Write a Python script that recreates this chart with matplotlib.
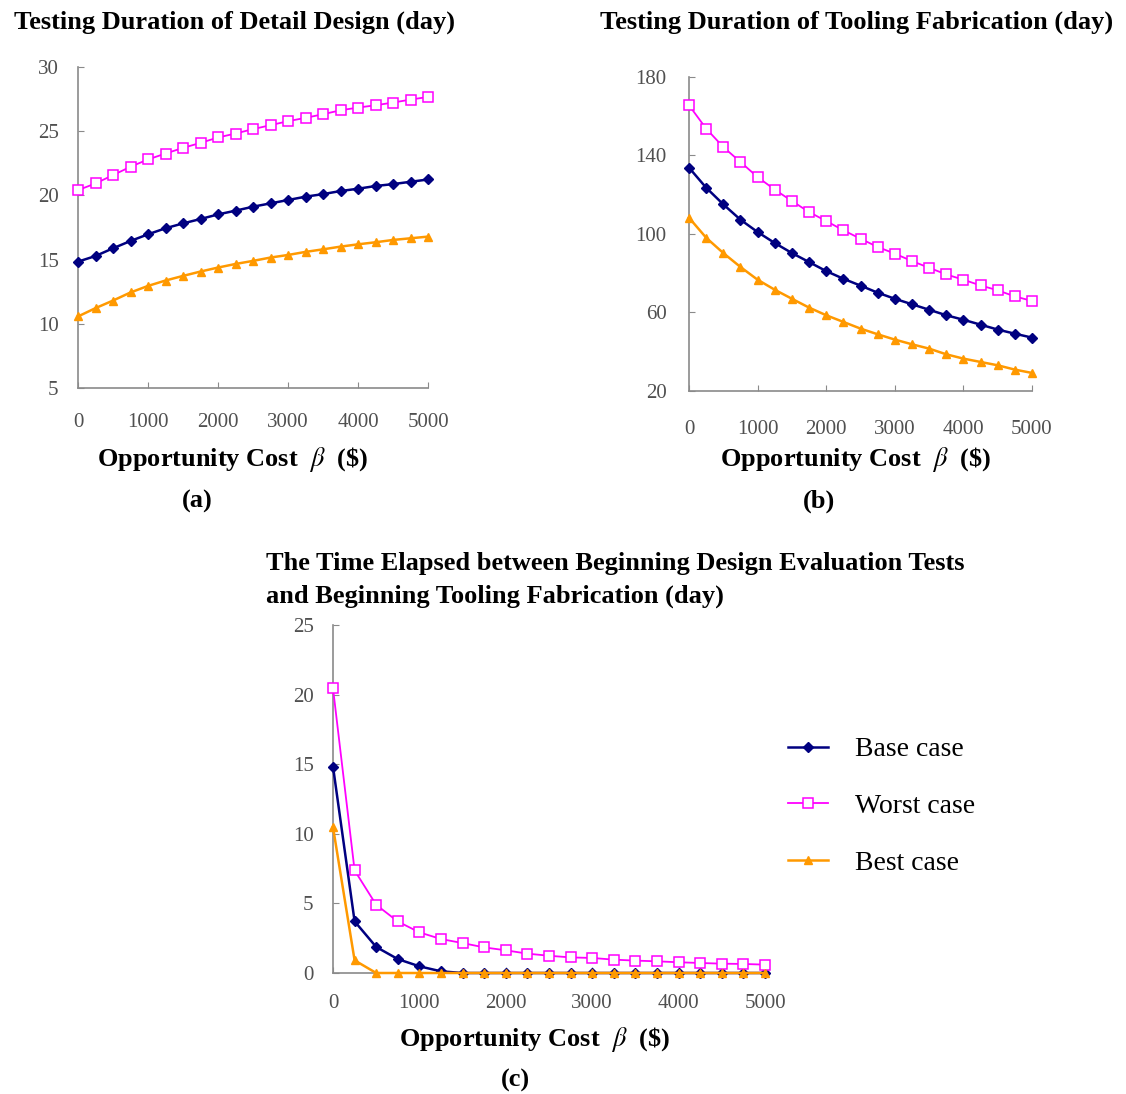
import matplotlib.pyplot as plt

plt.rcParams['font.family'] = ['Liberation Serif', 'DejaVu Serif']
plt.rcParams['mathtext.fontset'] = 'stix'

# Opportunity cost beta ($), one point every 250
beta = list(range(0, 5001, 250))

# (a) testing duration of detail design (day)
detail_base = [14.84, 15.28, 15.88, 16.45, 16.97, 17.44, 17.82, 18.16, 18.52, 18.81, 19.12,
               19.38, 19.64, 19.90, 20.10, 20.34, 20.52, 20.73, 20.88, 21.06, 21.24]
detail_worst = [20.41, 20.93, 21.58, 22.23, 22.80, 23.26, 23.70, 24.09, 24.51, 24.82, 25.16,
                25.47, 25.78, 26.04, 26.32, 26.63, 26.84, 27.02, 27.23, 27.46, 27.67]
detail_best = [10.57, 11.22, 11.81, 12.44, 12.95, 13.37, 13.73, 14.07, 14.38, 14.66, 14.90,
               15.16, 15.36, 15.60, 15.80, 16.01, 16.19, 16.35, 16.53, 16.66, 16.79]

# (b) testing duration of tooling fabrication (day)
tooling_base = [133.8, 123.6, 115.1, 107.3, 101.0, 95.4, 90.3, 85.7, 81.1, 77.2, 73.7,
                70.1, 67.0, 64.2, 61.4, 58.6, 56.3, 53.8, 51.3, 49.2, 47.2]
tooling_worst = [165.6, 153.7, 144.3, 136.7, 129.0, 122.6, 116.8, 111.2, 106.6, 101.9, 97.6,
                 93.4, 90.0, 86.2, 82.8, 79.4, 76.7, 73.8, 71.3, 68.2, 65.9]
tooling_best = [108.3, 98.1, 90.3, 83.2, 76.7, 71.6, 67.0, 62.5, 58.6, 55.2, 51.8,
                48.9, 46.2, 43.8, 41.6, 38.7, 36.5, 34.8, 33.1, 30.9, 29.2]

# (c) time elapsed between design evaluation tests and tooling fabrication (day)
elapsed_base = [14.83, 3.71, 1.87, 1.00, 0.48, 0.12, 0, 0, 0, 0, 0,
                0, 0, 0, 0, 0, 0, 0, 0, 0, 0]
elapsed_worst = [20.45, 7.37, 4.90, 3.70, 2.92, 2.44, 2.15, 1.84, 1.63, 1.39, 1.24,
                 1.12, 1.08, 0.96, 0.89, 0.84, 0.77, 0.72, 0.67, 0.65, 0.60]
elapsed_best = [10.48, 0.91, 0, 0, 0, 0, 0, 0, 0, 0, 0,
                0, 0, 0, 0, 0, 0, 0, 0, 0, 0]

case_names = ['Base case', 'Worst case', 'Best case']
panel_tags = ['(a)', '(b)', '(c)']

W, H = 1126, 1094
fig = plt.figure(figsize=(W / 100, H / 100), dpi=100)


def box(left, top, right, bottom):
    # pixel box -> figure fraction rect
    return [left / W, 1 - bottom / H, (right - left) / W, (bottom - top) / H]


def draw_panel(rect, base, worst, best, ylim, yticks, xpad, ypad):
    ax = fig.add_axes(rect)
    ax.plot(beta, base, color='#000080', marker='D', ms=5, lw=1.8, clip_on=False, zorder=3)
    ax.plot(beta, worst, color='#ff00ff', marker='s', ms=6.5, mfc='white', mew=1.1, lw=1.3,
            clip_on=False, zorder=3)
    ax.plot(beta, best, color='#ff9900', marker='^', ms=6, lw=1.8, clip_on=False, zorder=4)
    ax.set_xlim(0, 5000)
    ax.set_ylim(*ylim)
    ax.set_xticks(range(0, 5001, 1000))
    ax.set_yticks(yticks)
    for s in ['top', 'right']:
        ax.spines[s].set_visible(False)
    for s in ['left', 'bottom']:
        ax.spines[s].set_color('#8a8a8a')
        ax.spines[s].set_linewidth(1.2)
    ax.tick_params(axis='both', direction='in', length=4, color='#8a8a8a',
                   labelcolor='#505050', labelsize=15)
    ax.tick_params(axis='x', pad=xpad)
    ax.tick_params(axis='y', pad=ypad)
    return ax


draw_panel(box(78, 67, 428, 388), detail_base, detail_worst, detail_best,
           (5, 30), range(5, 31, 5), 18, 14)
draw_panel(box(689, 77, 1032, 391), tooling_base, tooling_worst, tooling_best,
           (20, 180), range(20, 181, 40), 21, 16)
ax_c = draw_panel(box(333, 625, 765, 973), elapsed_base, elapsed_worst, elapsed_best,
                  (0, 25), range(0, 26, 5), 15, 14)

title_kw = dict(fontsize=19, fontweight='bold', va='center')
fig.text(235 / W, 1 - 22 / H, 'Testing Duration of Detail Design (day)', ha='center', **title_kw)
fig.text(857 / W, 1 - 22 / H, 'Testing Duration of Tooling Fabrication (day)', ha='center', **title_kw)
fig.text(266 / W, 1 - 580 / H,
         'The Time Elapsed between Beginning Design Evaluation Tests\n'
         'and Beginning Tooling Fabrication (day)', ha='left', linespacing=1.55, **title_kw)

xlab = r'Opportunity Cost  $\beta$  (\$)'
for cx, cy in [(233, 460), (856, 460), (535, 1040)]:
    fig.text(cx / W, 1 - cy / H, xlab, ha='center', **title_kw)
for (cx, cy), tag in zip([(197, 501), (819, 501), (515, 1080)], panel_tags):
    fig.text(cx / W, 1 - cy / H, tag, ha='center', **title_kw)

handles = ax_c.get_lines()
fig.legend(handles, case_names, loc='upper left', bbox_to_anchor=(788 / W, 1 - 737 / H),
           frameon=False, fontsize=20, handlelength=1.45, handletextpad=0.95,
           labelspacing=1.12, borderpad=0, borderaxespad=0)

fig.savefig('out.png', dpi=100)
